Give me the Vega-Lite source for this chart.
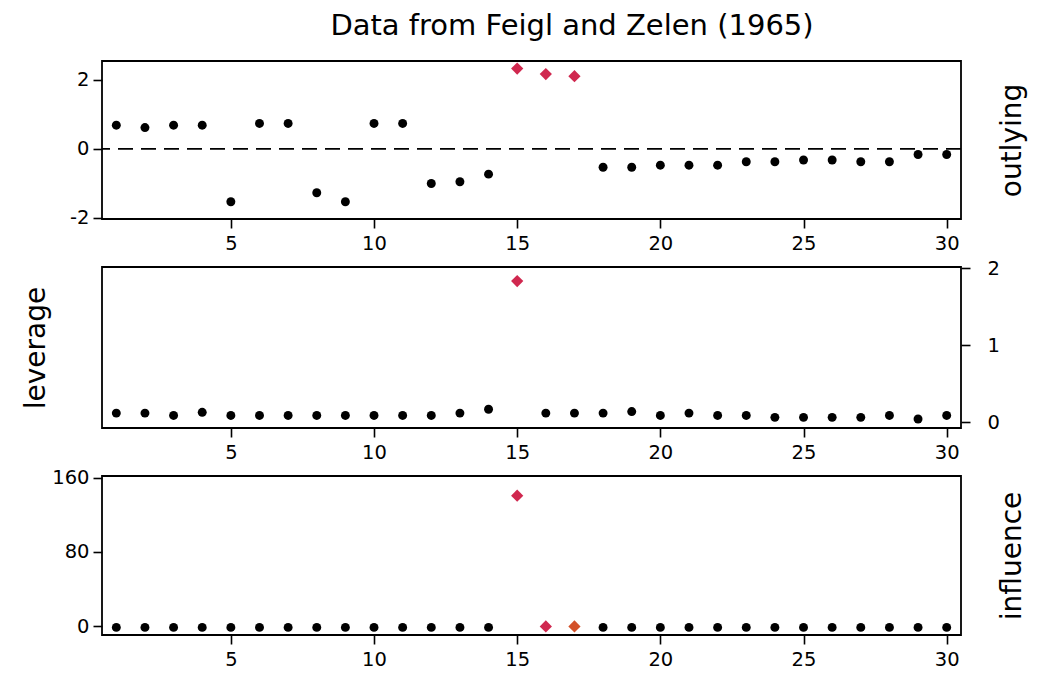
{
  "$schema": "https://vega.github.io/schema/vega-lite/v6.json",
  "background": "white",
  "padding": {"left": 21, "top": 12, "right": 5, "bottom": 5},
  "title": {"text": "Data from Feigl and Zelen (1965)", "font": "DejaVu Sans", "fontSize": 29, "fontWeight": "normal", "color": "black", "anchor": "middle", "dx": 48, "offset": 19},
  "data": {"values": [
    {"obs": 1, "outlying": 0.69, "leverage": 0.12, "influence": -1.5, "o_flag": "none", "l_flag": "none", "i_flag": "none"},
    {"obs": 2, "outlying": 0.62, "leverage": 0.12, "influence": -1.5, "o_flag": "none", "l_flag": "none", "i_flag": "none"},
    {"obs": 3, "outlying": 0.69, "leverage": 0.09, "influence": -1.5, "o_flag": "none", "l_flag": "none", "i_flag": "none"},
    {"obs": 4, "outlying": 0.69, "leverage": 0.13, "influence": -1.5, "o_flag": "none", "l_flag": "none", "i_flag": "none"},
    {"obs": 5, "outlying": -1.53, "leverage": 0.09, "influence": -1.5, "o_flag": "none", "l_flag": "none", "i_flag": "none"},
    {"obs": 6, "outlying": 0.74, "leverage": 0.09, "influence": -1.5, "o_flag": "none", "l_flag": "none", "i_flag": "none"},
    {"obs": 7, "outlying": 0.74, "leverage": 0.09, "influence": -1.5, "o_flag": "none", "l_flag": "none", "i_flag": "none"},
    {"obs": 8, "outlying": -1.27, "leverage": 0.09, "influence": -1.5, "o_flag": "none", "l_flag": "none", "i_flag": "none"},
    {"obs": 9, "outlying": -1.53, "leverage": 0.09, "influence": -1.5, "o_flag": "none", "l_flag": "none", "i_flag": "none"},
    {"obs": 10, "outlying": 0.74, "leverage": 0.09, "influence": -1.5, "o_flag": "none", "l_flag": "none", "i_flag": "none"},
    {"obs": 11, "outlying": 0.74, "leverage": 0.09, "influence": -1.5, "o_flag": "none", "l_flag": "none", "i_flag": "none"},
    {"obs": 12, "outlying": -1.0, "leverage": 0.09, "influence": -1.5, "o_flag": "none", "l_flag": "none", "i_flag": "none"},
    {"obs": 13, "outlying": -0.95, "leverage": 0.12, "influence": -1.5, "o_flag": "none", "l_flag": "none", "i_flag": "none"},
    {"obs": 14, "outlying": -0.73, "leverage": 0.17, "influence": -1.5, "o_flag": "none", "l_flag": "none", "i_flag": "none"},
    {"obs": 15, "outlying": 2.33, "leverage": 1.83, "influence": 140.6, "o_flag": "high", "l_flag": "high", "i_flag": "high"},
    {"obs": 16, "outlying": 2.17, "leverage": 0.12, "influence": -0.5, "o_flag": "high", "l_flag": "none", "i_flag": "high"},
    {"obs": 17, "outlying": 2.11, "leverage": 0.12, "influence": -0.5, "o_flag": "high", "l_flag": "none", "i_flag": "moderate"},
    {"obs": 18, "outlying": -0.53, "leverage": 0.12, "influence": -1.5, "o_flag": "none", "l_flag": "none", "i_flag": "none"},
    {"obs": 19, "outlying": -0.53, "leverage": 0.14, "influence": -1.5, "o_flag": "none", "l_flag": "none", "i_flag": "none"},
    {"obs": 20, "outlying": -0.47, "leverage": 0.09, "influence": -1.5, "o_flag": "none", "l_flag": "none", "i_flag": "none"},
    {"obs": 21, "outlying": -0.47, "leverage": 0.12, "influence": -1.5, "o_flag": "none", "l_flag": "none", "i_flag": "none"},
    {"obs": 22, "outlying": -0.47, "leverage": 0.09, "influence": -1.5, "o_flag": "none", "l_flag": "none", "i_flag": "none"},
    {"obs": 23, "outlying": -0.37, "leverage": 0.09, "influence": -1.5, "o_flag": "none", "l_flag": "none", "i_flag": "none"},
    {"obs": 24, "outlying": -0.37, "leverage": 0.065, "influence": -1.5, "o_flag": "none", "l_flag": "none", "i_flag": "none"},
    {"obs": 25, "outlying": -0.32, "leverage": 0.065, "influence": -1.5, "o_flag": "none", "l_flag": "none", "i_flag": "none"},
    {"obs": 26, "outlying": -0.32, "leverage": 0.065, "influence": -1.5, "o_flag": "none", "l_flag": "none", "i_flag": "none"},
    {"obs": 27, "outlying": -0.37, "leverage": 0.065, "influence": -1.5, "o_flag": "none", "l_flag": "none", "i_flag": "none"},
    {"obs": 28, "outlying": -0.37, "leverage": 0.09, "influence": -1.5, "o_flag": "none", "l_flag": "none", "i_flag": "none"},
    {"obs": 29, "outlying": -0.16, "leverage": 0.044, "influence": -1.5, "o_flag": "none", "l_flag": "none", "i_flag": "none"},
    {"obs": 30, "outlying": -0.16, "leverage": 0.09, "influence": -1.5, "o_flag": "none", "l_flag": "none", "i_flag": "none"}
  ]},
  "spacing": 48,
  "bounds": "flush",
  "vconcat": [
    {
      "width": 859, "height": 158,
      "layer": [
        {
          "data": {"values": [{"ref": 0}]},
          "mark": {"type": "rule", "strokeDash": [15, 8], "strokeWidth": 1.7, "color": "black"},
          "encoding": {"y": {"field": "ref", "type": "quantitative", "scale": {"domain": [-2.03, 2.55], "nice": false, "zero": false}, "axis": null}}
        },
        {
          "transform": [{"filter": "datum.o_flag == 'none'"}],
          "mark": {"type": "point", "shape": "circle", "filled": true, "size": 80, "color": "black", "opacity": 1},
          "encoding": {
            "x": {"field": "obs", "type": "quantitative", "scale": {"domain": [0.5, 30.5], "nice": false, "zero": false}, "axis": {"title": null, "values": [5, 10, 15, 20, 25, 30], "labelPadding": 6}},
            "y": {"field": "outlying", "type": "quantitative", "scale": {"domain": [-2.03, 2.55], "nice": false, "zero": false}, "axis": {"orient": "left", "title": null, "values": [-2, 0, 2], "labelPadding": 4, "labelExpr": "'' + datum.value"}}
          }
        },
        {
          "transform": [{"filter": "datum.o_flag != 'none'"}],
          "mark": {"type": "point", "shape": "diamond", "filled": true, "size": 150, "opacity": 1},
          "encoding": {
            "x": {"field": "obs", "type": "quantitative", "scale": {"domain": [0.5, 30.5], "nice": false, "zero": false}},
            "y": {"field": "outlying", "type": "quantitative", "scale": {"domain": [-2.03, 2.55], "nice": false, "zero": false}, "axis": {"orient": "right", "title": "outlying", "labels": false, "ticks": false, "titleAngle": 270, "titleBaseline": "top", "titlePadding": 37}},
            "color": {"field": "o_flag", "type": "nominal", "scale": {"domain": ["high", "moderate"], "range": ["#D0284F", "#D3522A"]}, "legend": null}
          }
        }
      ],
      "resolve": {"axis": {"y": "independent"}}
    },
    {
      "width": 859, "height": 161,
      "layer": [
        {
          "transform": [{"filter": "datum.l_flag == 'none'"}],
          "mark": {"type": "point", "shape": "circle", "filled": true, "size": 80, "color": "black", "opacity": 1},
          "encoding": {
            "x": {"field": "obs", "type": "quantitative", "scale": {"domain": [0.5, 30.5], "nice": false, "zero": false}, "axis": {"title": null, "values": [5, 10, 15, 20, 25, 30], "labelPadding": 6}},
            "y": {"field": "leverage", "type": "quantitative", "scale": {"domain": [-0.073, 2.013], "nice": false, "zero": false}, "axis": {"orient": "right", "title": null, "values": [0, 1, 2], "labelPadding": 17, "labelExpr": "'' + datum.value"}}
          }
        },
        {
          "transform": [{"filter": "datum.l_flag != 'none'"}],
          "mark": {"type": "point", "shape": "diamond", "filled": true, "size": 150, "opacity": 1},
          "encoding": {
            "x": {"field": "obs", "type": "quantitative", "scale": {"domain": [0.5, 30.5], "nice": false, "zero": false}},
            "y": {"field": "leverage", "type": "quantitative", "scale": {"domain": [-0.073, 2.013], "nice": false, "zero": false}, "axis": {"orient": "left", "title": "leverage", "labels": false, "ticks": false, "titlePadding": 52}},
            "color": {"field": "l_flag", "type": "nominal", "scale": {"domain": ["high", "moderate"], "range": ["#D0284F", "#D3522A"]}, "legend": null}
          }
        }
      ],
      "resolve": {"axis": {"y": "independent"}}
    },
    {
      "width": 859, "height": 159,
      "layer": [
        {
          "transform": [{"filter": "datum.i_flag == 'none'"}],
          "mark": {"type": "point", "shape": "circle", "filled": true, "size": 80, "color": "black", "opacity": 1},
          "encoding": {
            "x": {"field": "obs", "type": "quantitative", "scale": {"domain": [0.5, 30.5], "nice": false, "zero": false}, "axis": {"title": null, "values": [5, 10, 15, 20, 25, 30], "labelPadding": 6}},
            "y": {"field": "influence", "type": "quantitative", "scale": {"domain": [-9.7, 161.8], "nice": false, "zero": false}, "axis": {"orient": "left", "title": null, "values": [0, 80, 160], "labelPadding": 4, "labelExpr": "'' + datum.value"}}
          }
        },
        {
          "transform": [{"filter": "datum.i_flag != 'none'"}],
          "mark": {"type": "point", "shape": "diamond", "filled": true, "size": 150, "opacity": 1},
          "encoding": {
            "x": {"field": "obs", "type": "quantitative", "scale": {"domain": [0.5, 30.5], "nice": false, "zero": false}},
            "y": {"field": "influence", "type": "quantitative", "scale": {"domain": [-9.7, 161.8], "nice": false, "zero": false}, "axis": {"orient": "right", "title": "influence", "labels": false, "ticks": false, "titleAngle": 270, "titleBaseline": "top", "titlePadding": 37}},
            "color": {"field": "i_flag", "type": "nominal", "scale": {"domain": ["high", "moderate"], "range": ["#D0284F", "#D3522A"]}, "legend": null}
          }
        }
      ],
      "resolve": {"axis": {"y": "independent"}}
    }
  ],
  "config": {
    "font": "DejaVu Sans",
    "view": {"stroke": "black", "strokeWidth": 1.8},
    "axis": {"grid": false, "domain": false, "minExtent": 0, "tickColor": "black", "tickWidth": 1.6, "tickSize": 9, "labelFont": "DejaVu Sans", "labelFontSize": 19.5, "labelColor": "black", "titleFont": "DejaVu Sans", "titleFontSize": 28, "titleFontWeight": "normal", "titleColor": "black"}
  }
}
